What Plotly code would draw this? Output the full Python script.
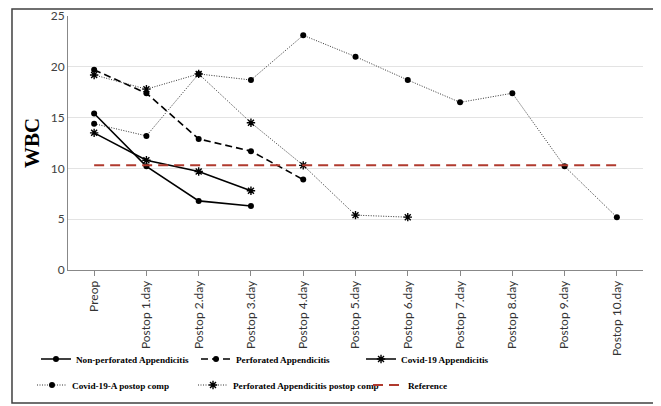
import plotly.graph_objects as go

categories = ["Preop", "Postop 1.day", "Postop 2.day", "Postop 3.day", "Postop 4.day",
              "Postop 5.day", "Postop 6.day", "Postop 7.day", "Postop 8.day",
              "Postop 9.day", "Postop 10.day"]

non_perforated = [15.4, 10.2, 6.8, 6.3]
perforated = [19.7, 17.4, 12.9, 11.7, 8.9]
covid_appendicitis = [13.5, 10.8, 9.7, 7.8]
covid_a_postop_comp = [14.4, 13.2, 19.3, 18.7, 23.1, 21.0, 18.7, 16.5, 17.4, 10.2, 5.2]
perforated_postop_comp = [19.2, 17.8, 19.3, 14.5, 10.3, 5.4, 5.2]
reference_value = 10.3

y_ticks = [0, 5, 10, 15, 20, 25]

fig = go.Figure()

def add(name, vals, dash, width, symbol, msize, legend, lcolor="black"):
    marker = dict(color="black", size=msize, symbol=symbol)
    if symbol == "asterisk-open":
        marker["line"] = dict(color="black", width=1.4)
    fig.add_trace(go.Scatter(
        x=categories[:len(vals)], y=vals, name=name, mode="lines+markers",
        legend=legend,
        line=dict(color=lcolor, width=width, dash=dash), marker=marker))

add("Non-perforated Appendicitis", non_perforated, "solid", 1.6, "circle", 6, "legend")
add("Perforated Appendicitis", perforated, "7px,4px", 1.6, "circle", 6, "legend2")
add("Covid-19 Appendicitis", covid_appendicitis, "solid", 1.6, "asterisk-open", 7, "legend3")
add("Covid-19-A postop comp", covid_a_postop_comp, "1px,1.5px", 1.0, "circle", 6,
    "legend4", "#333333")
add("Perforated Appendicitis postop comp", perforated_postop_comp, "1px,1.5px", 1.0,
    "asterisk-open", 7, "legend5", "#333333")

fig.add_trace(go.Scatter(
    x=categories, y=[reference_value] * len(categories), name="Reference", mode="lines",
    legend="legend6",
    line=dict(color="#B03A2E", width=2, dash="10px,6px")))

leg_font = dict(family="Liberation Serif", size=9.2, color="black", weight="bold")

def leg(x, y):
    return dict(orientation="h", x=x, xanchor="left", y=y, yanchor="middle",
                itemwidth=30, font=leg_font, bgcolor="rgba(0,0,0,0)")

fig.update_layout(
    width=653, height=398,
    margin=dict(l=60, r=18, t=8, b=136, autoexpand=False),
    paper_bgcolor="white", plot_bgcolor="white",
    showlegend=True,
    legend=leg(-0.0557, -0.3504),
    legend2=leg(0.2226, -0.3504),
    legend3=leg(0.5096, -0.3504),
    legend4=leg(-0.0626, -0.4528),
    legend5=leg(0.2174, -0.4528),
    legend6=leg(0.5217, -0.4528),
    font=dict(family="Lato", color="#404040"),
)

fig.update_xaxes(
    type="category", categoryorder="array", categoryarray=categories,
    range=[-0.5, len(categories) - 0.5], automargin=False,
    tickangle=-90, tickfont=dict(family="Lato", size=12, color="#333333"),
    showline=True, linecolor="#888888", linewidth=1,
    ticks="outside", ticklen=5, tickcolor="#888888",
    showgrid=False, zeroline=False)

fig.update_yaxes(
    range=[0, 25], tickvals=y_ticks, automargin=False,
    tickfont=dict(family="Lato", size=12, color="#404040"),
    showline=True, linecolor="#888888", linewidth=1,
    showgrid=True, gridcolor="#E3E3E3", gridwidth=1, zeroline=False,
    title=dict(text="<b>WBC</b>", font=dict(family="Liberation Serif", size=21, color="black"),
               standoff=5))

fig.add_shape(type="rect", xref="paper", yref="paper",
              x0=-0.0974, x1=1.0243, y0=-0.5236, y1=1.0276,
              line=dict(color="#404040", width=1.5), layer="below")

fig.write_html("out.html")
